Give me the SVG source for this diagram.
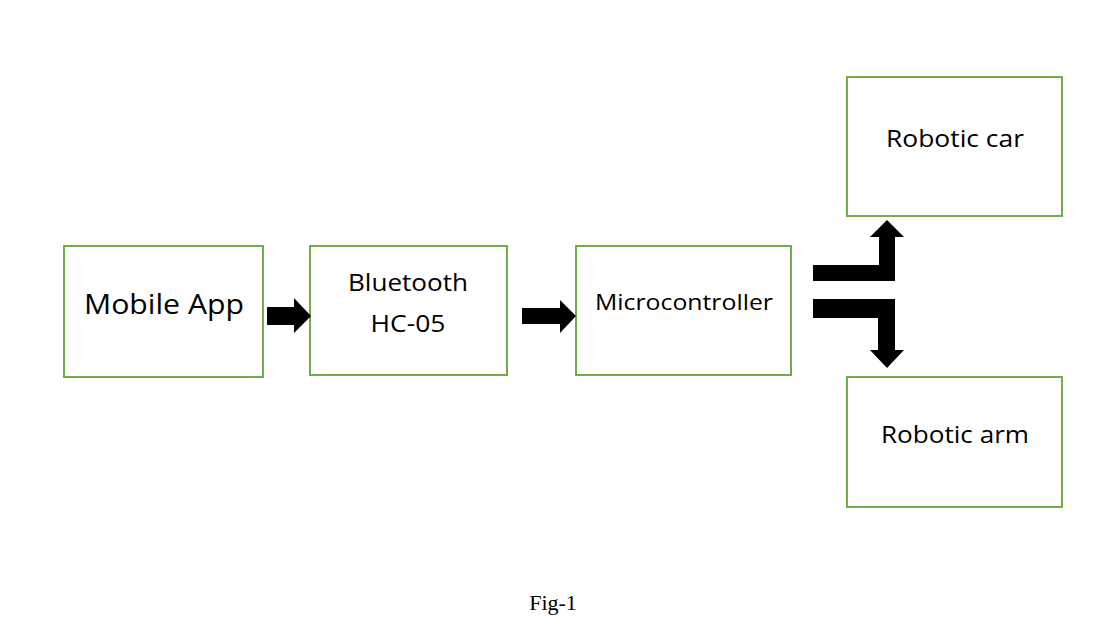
<svg xmlns="http://www.w3.org/2000/svg" width="1115" height="643" viewBox="0 0 1115 643">
<style>
.box{fill:#fff;stroke:#70AD47;stroke-width:2}
.lbl{font-family:"Open Sans","Noto Sans",sans-serif;fill:#000;text-anchor:middle}
.arr{fill:#000}
</style>
<rect width="1115" height="643" fill="#fff"/>
<g id="mobile-app"><rect class="box" x="64" y="246" width="199" height="131"/><text class="lbl" x="164" y="314" font-size="28" textLength="160" lengthAdjust="spacingAndGlyphs">Mobile App</text></g>
<g id="bluetooth"><rect class="box" x="310" y="246" width="197" height="129"/><text class="lbl" x="408" y="291" font-size="23" textLength="120" lengthAdjust="spacingAndGlyphs">Bluetooth</text><text class="lbl" x="408" y="332" font-size="23" textLength="75" lengthAdjust="spacingAndGlyphs">HC-05</text></g>
<g id="microcontroller"><rect class="box" x="576" y="246" width="215" height="129"/><text class="lbl" x="684" y="310" font-size="22" textLength="178" lengthAdjust="spacingAndGlyphs">Microcontroller</text></g>
<g id="robotic-car"><rect class="box" x="847" y="77" width="215" height="139"/><text class="lbl" x="955" y="147" font-size="23" textLength="138" lengthAdjust="spacingAndGlyphs">Robotic car</text></g>
<g id="robotic-arm"><rect class="box" x="847" y="377" width="215" height="130"/><text class="lbl" x="955" y="443" font-size="23" textLength="148" lengthAdjust="spacingAndGlyphs">Robotic arm</text></g>
<g id="connectors">
<polygon class="arr" points="267,307 294,307 294,298 311,316 294,333 294,325 267,325"/>
<polygon class="arr" points="522,308 560,308 560,300 576,316 560,333 560,324 522,324"/>
<polygon class="arr" points="813,265 879,265 879,237 870,237 887,220 904,237 895,237 895,281 813,281"/>
<polygon class="arr" points="813,299 895,299 895,350 904,350 887,368 870,350 878,350 878,318 813,318"/>
</g>
<text x="553" y="610" font-family="Liberation Serif,serif" font-size="22" text-anchor="middle">Fig-1</text>
</svg>
